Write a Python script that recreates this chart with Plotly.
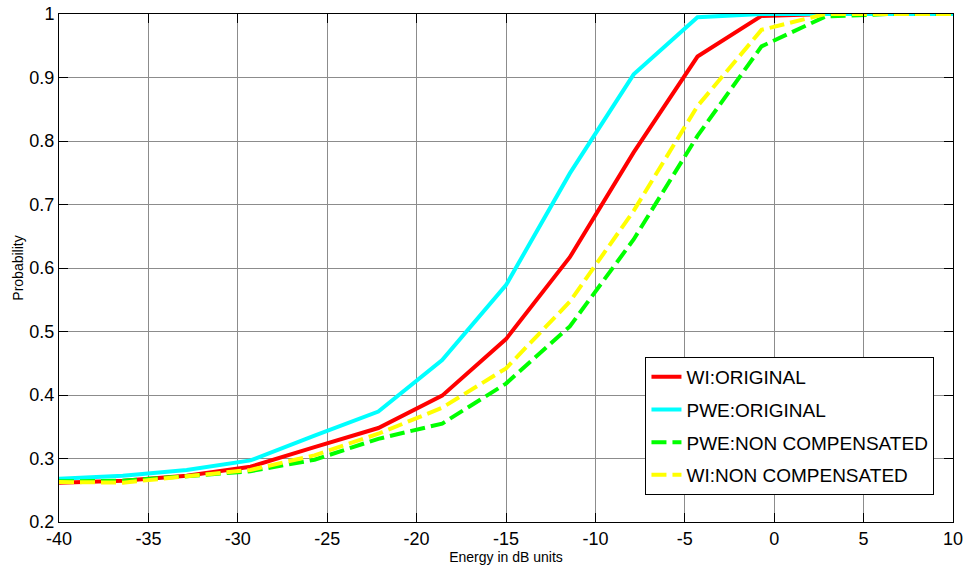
import plotly.graph_objects as go

# Energy grid (dB) and detection probabilities for each method
energy_db = [-40, -36.43, -32.86, -29.29, -25.71, -22.14, -18.57, -15,
             -11.43, -7.86, -4.29, -0.71, 2.86, 6.43, 10]
wi_original = [0.262, 0.265, 0.273, 0.287, 0.318, 0.348, 0.399, 0.488,
               0.617, 0.782, 0.933, 0.997, 1.0, 1.0, 1.0]
pwe_original = [0.268, 0.273, 0.282, 0.297, 0.336, 0.374, 0.455, 0.573,
                0.749, 0.905, 0.995, 1.0, 1.0, 1.0, 1.0]
pwe_non_comp = [0.264, 0.265, 0.272, 0.280, 0.298, 0.331, 0.355, 0.418,
                0.508, 0.645, 0.808, 0.949, 0.996, 1.0, 1.0]
wi_non_comp = [0.263, 0.262, 0.272, 0.282, 0.305, 0.339, 0.380, 0.442,
               0.547, 0.690, 0.855, 0.975, 1.0, 1.0, 1.0]

# Axis ticks (plain hyphen minus signs on the x labels)
x_ticks = [-40, -35, -30, -25, -20, -15, -10, -5, 0, 5, 10]
x_tick_labels = ["-40", "-35", "-30", "-25", "-20", "-15", "-10", "-5", "0", "5", "10"]
y_ticks = [0.2, 0.3, 0.4, 0.5, 0.6, 0.7, 0.8, 0.9, 1.0]
y_tick_labels = ["0.2", "0.3", "0.4", "0.5", "0.6", "0.7", "0.8", "0.9", "1"]

series = [
    ("WI:ORIGINAL", wi_original, "#ff0000", "solid"),
    ("PWE:ORIGINAL", pwe_original, "#00ffff", "solid"),
    ("PWE:NON COMPENSATED", pwe_non_comp, "#00ff00", "15px,6px"),
    ("WI:NON COMPENSATED", wi_non_comp, "#ffff00", "15px,6px"),
]

FONT = "Arial, Liberation Sans, Helvetica, sans-serif"

fig = go.Figure()
for name, vals, color, dash in series:
    fig.add_trace(go.Scatter(
        x=energy_db, y=vals, mode="lines", name=name, legendgroup=name,
        line=dict(color=color, width=4, dash=dash),
    ))

axis_common = dict(
    showline=True, linecolor="black", linewidth=1, mirror="ticks",
    ticks="inside", ticklen=9, tickcolor="black", tickwidth=1,
    showgrid=True, gridcolor="#8c8c8c", gridwidth=1,
    zeroline=False, automargin=False,
    tickfont=dict(family=FONT, size=18, color="black"),
)

fig.update_layout(
    width=966, height=567,
    margin=dict(l=59, r=13, t=14, b=45),
    paper_bgcolor="white", plot_bgcolor="white",
    font=dict(family=FONT, color="black"),
    xaxis=dict(range=[-40, 10], tickmode="array", tickvals=x_ticks,
               ticktext=x_tick_labels,
               title=dict(text="Energy in dB units", font=dict(family=FONT, size=14),
                          standoff=2),
               **axis_common),
    yaxis=dict(range=[0.2, 1.0], tickmode="array", tickvals=y_ticks,
               ticktext=y_tick_labels,
               title=dict(text="Probability", font=dict(family=FONT, size=14),
                          standoff=2),
               **axis_common),
    legend=dict(x=0.656, y=0.325, xanchor="left", yanchor="top",
                bgcolor="white", bordercolor="black", borderwidth=1,
                font=dict(family=FONT, size=19, color="black"),
                tracegroupgap=5),
    showlegend=True,
)

fig.write_html("out.html")
